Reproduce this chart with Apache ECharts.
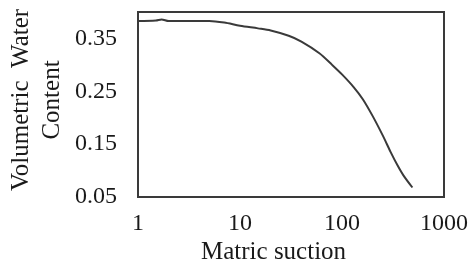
<!DOCTYPE html>
<html>
<head>
<meta charset="utf-8">
<script src="https://cdn.jsdelivr.net/npm/echarts@6/dist/echarts.min.js"></script>
<style>
    html, body { margin: 0; padding: 0; background: #fff; }
    #chart { width: 471px; height: 264px; }
</style>
</head>
<body>
<div id="chart"></div>
<script>
    // matric suction values (log axis) and water content
    var suction = [1, 1.5, 1.7, 2, 3, 5, 7, 10, 15, 20, 30, 40, 60, 80, 100, 130, 160, 200, 250, 300, 350, 400, 490];
    var waterContent = [0.383, 0.384, 0.386, 0.383, 0.383, 0.383, 0.380, 0.374, 0.369, 0.365, 0.355, 0.344, 0.322, 0.300, 0.282, 0.258, 0.235, 0.203, 0.167, 0.135, 0.110, 0.091, 0.068];
    var yLabels = ['0.05', '0.15', '0.25', '0.35'];

    var points = suction.map(function (s, i) { return [s, waterContent[i]]; });
    var font = '"Liberation Serif", serif';

    var chart = echarts.init(document.getElementById('chart'));
    chart.setOption({
        animation: false,
        grid: {
            left: 138, right: 24, top: 12, bottom: 67,
            show: true, borderColor: '#3a3a3a', borderWidth: 2
        },
        xAxis: {
            type: 'log',
            logBase: 10,
            min: 1,
            max: 1000,
            axisLine: { show: false },
            axisTick: { show: false },
            splitLine: { show: false },
            axisLabel: {
                color: '#1a1a1a', fontFamily: font, fontSize: 24, margin: 15,
                formatter: function (v) { return String(Math.round(v)); }
            }
        },
        yAxis: {
            type: 'value',
            min: 0.05,
            max: 0.4,
            interval: 0.05,
            axisLine: { show: false },
            axisTick: { show: false },
            splitLine: { show: false },
            axisLabel: {
                color: '#1a1a1a', fontFamily: font, fontSize: 24, margin: 21,
                formatter: function (v) {
                    var s = v.toFixed(2);
                    return yLabels.indexOf(s) >= 0 ? s : '';
                }
            }
        },
        graphic: [
            {
                type: 'text', left: 201, top: 240,
                style: { text: 'Matric suction', font: '25px "Liberation Serif"', fill: '#1a1a1a' }
            },
            {
                type: 'text', x: 37, y: 100, rotation: Math.PI / 2,
                style: {
                    text: 'Volumetric  Water\nContent', font: '25px "Liberation Serif"', fill: '#1a1a1a',
                    align: 'center', verticalAlign: 'middle', lineHeight: 31
                }
            }
        ],
        series: [{
            type: 'line',
            data: points,
            smooth: 0.3,
            showSymbol: false,
            lineStyle: { color: '#3a3a3a', width: 2 }
        }]
    });
</script>
</body>
</html>
